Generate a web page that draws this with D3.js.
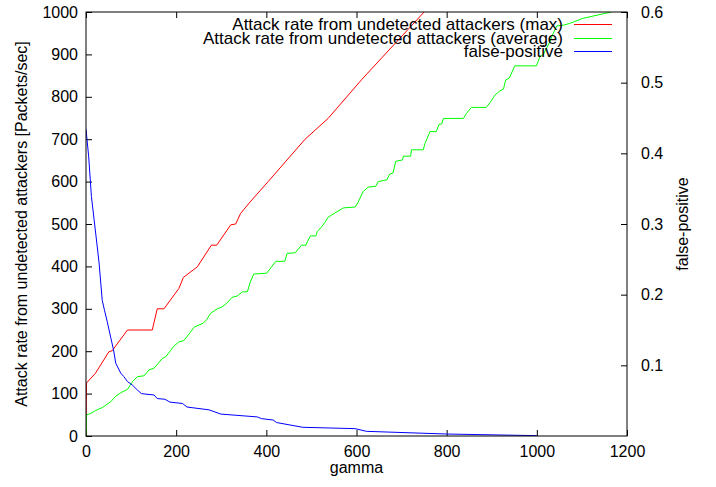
<!DOCTYPE html>
<html>
<head>
<meta charset="utf-8">
<script src="https://cdn.jsdelivr.net/npm/d3@7"></script>
<style>
  body { margin: 0; background: #fff; }
  text { font-family: "Liberation Sans", Arial, sans-serif; }
</style>
</head>
<body>
<div id="chart"></div>
<script>
// data
var xTicks = [0, 200, 400, 600, 800, 1000, 1200];
var yTicks = [0, 100, 200, 300, 400, 500, 600, 700, 800, 900, 1000];
var y2Ticks = [0.1, 0.2, 0.3, 0.4, 0.5, 0.6];

var seriesNames = [
    "Attack rate from undetected attackers (max)",
    "Attack rate from undetected attackers (average)",
    "false-positive"
];

var maxGamma = [0, 1, 21, 51, 58, 92, 147, 158, 173, 206, 216, 247, 278, 290, 321, 332, 343, 364, 404, 486, 537, 611, 750];
var maxRate = [0, 125, 148, 199, 201, 250, 250, 300, 300, 348, 374, 399, 450, 450, 498, 500, 525, 552, 600, 700, 749, 840, 1000];

var avgGamma = [0, 1, 10, 21, 36, 47, 55, 66, 77, 92, 103, 114, 129, 140, 151, 160, 169, 177, 195, 206,
    217, 231, 240, 260, 268, 276, 291, 301, 312, 324, 335, 347, 358, 364, 372, 401, 421, 441, 446, 464,
    478, 488, 491, 498, 510, 513, 523, 530, 537, 552, 571, 597, 603, 615, 626, 643, 648, 667, 674, 681,
    687, 702, 704, 720, 722, 748, 752, 763, 777, 783, 789, 793, 837, 844, 855, 888, 900, 907, 918, 926,
    931, 939, 951, 999, 1007, 1014, 1029, 1033, 1044, 1059, 1073, 1102, 1165];
var avgRate = [0, 50, 53, 60, 67, 75, 81, 94, 102, 110, 128, 140, 142, 156, 160, 171, 183, 187, 212, 222,
    225, 244, 257, 266, 275, 289, 300, 304, 313, 327, 330, 340, 340, 362, 382, 384, 412, 412, 431, 432,
    450, 450, 458, 472, 472, 482, 494, 504, 516, 526, 538, 540, 550, 577, 587, 589, 600, 604, 618, 620,
    648, 651, 660, 660, 675, 675, 690, 718, 718, 735, 736, 749, 749, 761, 775, 775, 792, 804, 814, 818,
    840, 844, 873, 873, 895, 899, 930, 942, 967, 969, 973, 985, 1000];

var fpGamma = [0, 6, 12, 18, 24, 29, 36, 41, 47, 55, 61, 66, 77, 84, 92, 103, 114, 123, 151, 158,
    175, 186, 214, 224, 273, 299, 380, 389, 415, 423, 481, 597, 622, 800, 1000];
var fpValue = [0.434, 0.395, 0.339, 0.306, 0.273, 0.245, 0.192, 0.178, 0.162, 0.139, 0.122, 0.103, 0.089, 0.084, 0.077, 0.072, 0.065, 0.060, 0.058, 0.053,
    0.052, 0.048, 0.046, 0.041, 0.037, 0.031, 0.027, 0.0246, 0.0226, 0.019, 0.0123, 0.0104, 0.0066, 0.0028, 0.0005];

var colors = ["#ff0000", "#00ff00", "#0000ff"];

var svgWidth = 716;
var svgHeight = 487;
var margin = { top: 12, right: 89, bottom: 51, left: 86 };
var width = svgWidth - margin.left - margin.right;
var height = svgHeight - margin.top - margin.bottom;

var svg = d3.select("#chart")
    .append("svg")
    .attr("width", svgWidth)
    .attr("height", svgHeight);

var chartGroup = svg.append("g")
    .attr("transform", `translate(${margin.left}, ${margin.top})`);

// scales
var x = d3.scaleLinear().domain([0, 1200]).range([0, width]);
var y = d3.scaleLinear().domain([0, 1000]).range([height, 0]);
var y2 = d3.scaleLinear().domain([0, 0.6]).range([height, 0]);

var tickLen = 6;
var fontSize = 16;

// axes: ticks point inward like gnuplot
function styleAxis(g) {
    g.select(".domain").remove();
    g.selectAll("line").attr("stroke", "#000");
    g.selectAll("text").attr("font-size", fontSize).attr("fill", "#000")
        .attr("font-family", "Liberation Sans, Arial, sans-serif");
}

chartGroup.append("g")
    .attr("transform", `translate(0, ${height})`)
    .call(d3.axisBottom(x).tickValues(xTicks).tickSize(-tickLen).tickPadding(10).tickFormat(d3.format("d")))
    .call(styleAxis);

// mirrored x ticks on top
chartGroup.append("g")
    .call(d3.axisTop(x).tickValues(xTicks).tickSize(-tickLen).tickFormat(""))
    .call(styleAxis);

chartGroup.append("g")
    .call(d3.axisLeft(y).tickValues(yTicks).tickSize(-tickLen).tickPadding(8).tickFormat(d3.format("d")))
    .call(styleAxis);

chartGroup.append("g")
    .attr("transform", `translate(${width}, 0)`)
    .call(d3.axisRight(y2).tickValues(y2Ticks).tickSize(-tickLen).tickPadding(14).tickFormat(d3.format(".1f")))
    .call(styleAxis);

// clip for the lines
svg.append("defs").append("clipPath").attr("id", "plotclip")
    .append("rect").attr("width", width).attr("height", height);

var plot = chartGroup.append("g").attr("clip-path", "url(#plotclip)");

var line = d3.line().x(d => x(d[0])).y(d => y(d[1]));
var line2 = d3.line().x(d => x(d[0])).y(d => y2(d[1]));

plot.append("path")
    .datum(d3.zip(maxGamma, maxRate))
    .attr("d", line)
    .attr("fill", "none")
    .attr("stroke", colors[0])
    .attr("stroke-width", 1);

plot.append("path")
    .datum(d3.zip(avgGamma, avgRate))
    .attr("d", line)
    .attr("fill", "none")
    .attr("stroke", colors[1])
    .attr("stroke-width", 1);

plot.append("path")
    .datum(d3.zip(fpGamma, fpValue))
    .attr("d", line2)
    .attr("fill", "none")
    .attr("stroke", colors[2])
    .attr("stroke-width", 1);

// frame
chartGroup.append("rect")
    .attr("width", width)
    .attr("height", height)
    .attr("fill", "none")
    .attr("stroke", "#000")
    .attr("stroke-width", 1);

// axis titles
svg.append("text")
    .attr("x", margin.left + width / 2)
    .attr("y", 473)
    .attr("text-anchor", "middle")
    .attr("font-size", fontSize)
    .text("gamma");

svg.append("text")
    .attr("transform", `translate(27, ${margin.top + height / 2}) rotate(-90)`)
    .attr("text-anchor", "middle")
    .attr("font-size", fontSize)
    .text("Attack rate from undetected attackers [Packets/sec]");

svg.append("text")
    .attr("transform", `translate(688, ${margin.top + height / 2}) rotate(-90)`)
    .attr("text-anchor", "middle")
    .attr("font-size", fontSize)
    .text("false-positive");

// legend
var legendY = [24.5, 38.5, 51.5];
var legend = svg.append("g");
seriesNames.forEach(function(name, i) {
    var ly = legendY[i];
    legend.append("text")
        .attr("x", 563)
        .attr("y", ly)
        .attr("dy", "0.35em")
        .attr("text-anchor", "end")
        .attr("font-size", 17)
        .text(name);
    legend.append("line")
        .attr("x1", 574).attr("x2", 612)
        .attr("y1", ly).attr("y2", ly)
        .attr("stroke", colors[i])
        .attr("stroke-width", 1);
});
</script>
</body>
</html>
